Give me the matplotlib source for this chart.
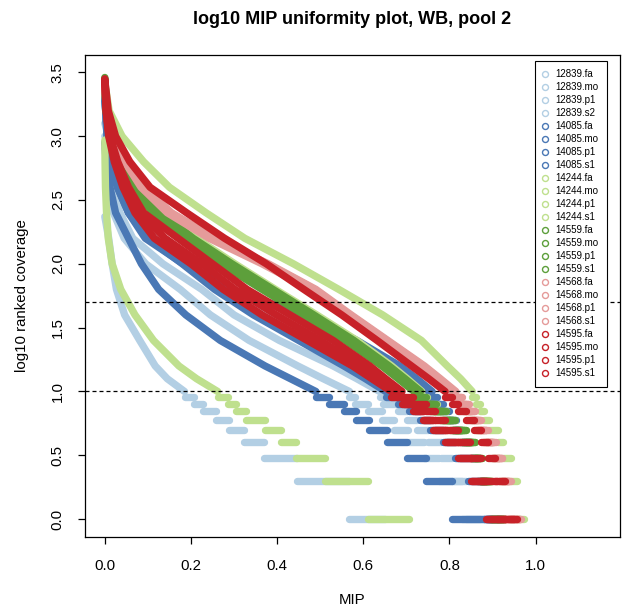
import numpy as np
import matplotlib
matplotlib.use("Agg")
import matplotlib.pyplot as plt
from matplotlib.lines import Line2D

plt.rcParams['font.family'] = ['Liberation Sans', 'DejaVu Sans']

nan = np.nan

# log10 coverage levels of the smooth part of each ranked curve
log_cov_levels = [3.2, 3.0, 2.8, 2.6, 2.4, 2.2, 2.0, 1.8, 1.6, 1.4, 1.2, 1.1, 1.0]
# integer coverages below 10 (the flat steps)
low_cov_levels = [9, 8, 7, 6, 5, 4, 3, 2, 1]

# fraction of MIPs (x) reaching each level
suffix_12839 = ['fa', 'mo', 'p1', 's2']
top_12839 = [2.90, 3.00, 2.37, 3.10]
hi_12839 = [
    [nan, nan, 0.004, 0.01, 0.02, 0.045, 0.095, 0.175, 0.245, 0.335, 0.448, 0.507, 0.568],
    [nan, 0.002, 0.01, 0.02, 0.035, 0.065, 0.135, 0.225, 0.30, 0.405, 0.53, 0.585, 0.638],
    [nan, nan, nan, nan, nan, 0.009, 0.017, 0.027, 0.046, 0.081, 0.117, 0.145, 0.185],
    [nan, 0.009, 0.024, 0.046, 0.078, 0.138, 0.222, 0.30, 0.396, 0.498, 0.593, 0.634, 0.672],
]
lo_12839 = [
    [0.58, 0.611, 0.644, 0.671, 0.704, 0.74, 0.775, 0.83, 0.88],
    [0.645, 0.68, 0.702, 0.725, 0.75, 0.78, 0.806, 0.839, 0.87],
    [0.207, 0.227, 0.258, 0.288, 0.3235, 0.37, 0.445, 0.567, 0.65],
    [0.688, 0.712, 0.736, 0.76, 0.787, 0.815, 0.845, 0.88, 0.92],
]

suffix_14085 = ['fa', 'mo', 'p1', 's1']
top_14085 = [2.95, 3.33, 3.30, 3.28]
hi_14085 = [
    [nan, nan, 0.005, 0.012, 0.025, 0.055, 0.085, 0.125, 0.188, 0.268, 0.372, 0.431, 0.49],
    [0.002, 0.006, 0.015, 0.032, 0.06, 0.10, 0.19, 0.29, 0.465, 0.585, 0.685, 0.724, 0.76],
    [0.002, 0.006, 0.014, 0.03, 0.055, 0.10, 0.18, 0.255, 0.345, 0.45, 0.555, 0.605, 0.652],
    [0.002, 0.005, 0.013, 0.029, 0.055, 0.094, 0.182, 0.282, 0.455, 0.575, 0.676, 0.716, 0.752],
]
lo_14085 = [
    [0.52, 0.555, 0.582, 0.6125, 0.6555, 0.702, 0.7465, 0.806, 0.90],
    [0.772, 0.786, 0.80, 0.815, 0.83, 0.85, 0.87, 0.89, 0.92],
    [0.68, 0.707, 0.731, 0.756, 0.784, 0.814, 0.844, 0.88, 0.925],
    [0.764, 0.779, 0.794, 0.809, 0.825, 0.845, 0.865, 0.885, 0.915],
]

suffix_14244 = ['fa', 'mo', 'p1', 's1']
top_14244 = [3.42, 3.35, 2.97, 3.38]
hi_14244 = [
    [0.01, 0.04, 0.09, 0.15, 0.235, 0.325, 0.438, 0.543, 0.645, 0.735, 0.795, 0.826, 0.853],
    [0.004, 0.016, 0.04, 0.077, 0.137, 0.212, 0.302, 0.396, 0.492, 0.585, 0.666, 0.702, 0.736],
    [nan, nan, 0.0005, 0.0015, 0.004, 0.008, 0.017, 0.037, 0.07, 0.113, 0.172, 0.213, 0.262],
    [0.005, 0.018, 0.047, 0.086, 0.15, 0.248, 0.372, 0.482, 0.565, 0.65, 0.735, 0.773, 0.808],
]
lo_14244 = [
    [0.862, 0.871, 0.881, 0.893, 0.912, 0.925, 0.942, 0.956, 0.972],
    [0.748, 0.771, 0.792, 0.813, 0.838, 0.859, 0.875, 0.899, 0.929],
    [0.2855, 0.304, 0.3285, 0.3715, 0.409, 0.4445, 0.511, 0.611, 0.706],
    [0.822, 0.836, 0.85, 0.864, 0.88, 0.898, 0.915, 0.935, 0.96],
]

suffix_14559 = ['fa', 'mo', 'p1', 's1']
top_14559 = [3.46, 3.44, 3.45, 3.42]
hi_14559 = [
    [0.004, 0.014, 0.035, 0.07, 0.13, 0.205, 0.295, 0.39, 0.485, 0.578, 0.66, 0.697, 0.733],
    [0.003, 0.011, 0.028, 0.058, 0.112, 0.183, 0.27, 0.365, 0.462, 0.558, 0.643, 0.681, 0.718],
    [0.004, 0.013, 0.032, 0.065, 0.122, 0.195, 0.284, 0.379, 0.475, 0.57, 0.653, 0.69, 0.725],
    [0.003, 0.012, 0.03, 0.062, 0.117, 0.189, 0.277, 0.372, 0.469, 0.564, 0.648, 0.686, 0.722],
]
lo_14559 = [
    [0.745, 0.77, 0.792, 0.813, 0.838, 0.86, 0.875, 0.90, 0.93],
    [0.733, 0.756, 0.778, 0.801, 0.826, 0.849, 0.867, 0.892, 0.924],
    [0.74, 0.764, 0.786, 0.808, 0.833, 0.855, 0.872, 0.897, 0.928],
    [0.737, 0.761, 0.783, 0.805, 0.83, 0.852, 0.87, 0.895, 0.926],
]

suffix_14568 = ['fa', 'mo', 'p1', 's1']
top_14568 = [3.40, 3.38, 3.36, 3.39]
hi_14568 = [
    [0.006, 0.02, 0.05, 0.09, 0.155, 0.255, 0.38, 0.49, 0.572, 0.657, 0.742, 0.779, 0.815],
    [0.006, 0.019, 0.048, 0.087, 0.15, 0.248, 0.372, 0.483, 0.565, 0.651, 0.736, 0.774, 0.808],
    [0.005, 0.018, 0.046, 0.084, 0.145, 0.242, 0.365, 0.477, 0.559, 0.645, 0.729, 0.767, 0.802],
    [0.006, 0.02, 0.049, 0.089, 0.153, 0.252, 0.377, 0.487, 0.569, 0.654, 0.739, 0.776, 0.812],
]
lo_14568 = [
    [0.83, 0.845, 0.86, 0.873, 0.889, 0.907, 0.923, 0.942, 0.967],
    [0.823, 0.838, 0.853, 0.867, 0.884, 0.902, 0.919, 0.938, 0.964],
    [0.817, 0.832, 0.848, 0.862, 0.879, 0.898, 0.916, 0.935, 0.962],
    [0.827, 0.842, 0.857, 0.87, 0.886, 0.904, 0.921, 0.94, 0.965],
]

suffix_14595 = ['fa', 'mo', 'p1', 's1']
top_14595 = [3.44, 3.44, 3.45, 3.43]
hi_14595 = [
    [0.008, 0.025, 0.058, 0.105, 0.19, 0.278, 0.375, 0.462, 0.55, 0.632, 0.712, 0.752, 0.79],
    [0.003, 0.009, 0.022, 0.042, 0.07, 0.115, 0.20, 0.275, 0.365, 0.47, 0.575, 0.62, 0.665],
    [0.004, 0.012, 0.03, 0.055, 0.09, 0.17, 0.25, 0.33, 0.43, 0.53, 0.615, 0.652, 0.69],
    [0.003, 0.01, 0.026, 0.048, 0.08, 0.14, 0.225, 0.302, 0.398, 0.50, 0.595, 0.636, 0.678],
]
lo_14595 = [
    [0.805, 0.82, 0.838, 0.856, 0.874, 0.89, 0.905, 0.93, 0.958],
    [0.69, 0.715, 0.738, 0.762, 0.79, 0.82, 0.85, 0.885, 0.93],
    [0.715, 0.746, 0.766, 0.79, 0.82, 0.848, 0.874, 0.91, 0.95],
    [0.695, 0.72, 0.742, 0.766, 0.794, 0.824, 0.853, 0.888, 0.932],
]

family_ids = ['12839', '14085', '14244', '14559', '14568', '14595']
family_colors = ['#b3cfe4', '#4a78b5', '#bfe08e', '#5d9f3b', '#e59b9a', '#c72128']

families = [
    (suffix_12839, top_12839, hi_12839, lo_12839),
    (suffix_14085, top_14085, hi_14085, lo_14085),
    (suffix_14244, top_14244, hi_14244, lo_14244),
    (suffix_14559, top_14559, hi_14559, lo_14559),
    (suffix_14568, top_14568, hi_14568, lo_14568),
    (suffix_14595, top_14595, hi_14595, lo_14595),
]

LW = 5.3


def draw_sample(ax, top, hi, lo, color, z):
    xs = [0.0]
    ys = [top]
    for lvl, f in zip(log_cov_levels, hi):
        if not np.isnan(f):
            xs.append(f)
            ys.append(lvl)
    ax.plot(xs, ys, color=color, lw=LW, solid_capstyle='round',
            solid_joinstyle='round', zorder=z)
    start = xs[-1]
    for cov, end in zip(low_cov_levels, lo):
        y = np.log10(cov)
        ax.plot([start, end], [y, y], color=color, lw=LW,
                solid_capstyle='round', zorder=z)
        start = end


fig = plt.figure(figsize=(6.29, 6.13), dpi=100)
ax = fig.add_axes([85 / 629, 1 - 537 / 613, 535 / 629, 482.5 / 613])

handles = []
z = 2
for fid, color, (suffixes, tops, his, los) in zip(family_ids, family_colors, families):
    for suf, top, hi, lo in zip(suffixes, tops, his, los):
        draw_sample(ax, top, hi, lo, color, z)
        z += 1
        handles.append(Line2D([], [], ls='none', marker='o', ms=4.3, mfc='none',
                              mec=color, mew=1.0, label=fid + '.' + suf))

ax.axhline(1.0, color='black', lw=0.9, dashes=(3.2, 2.4), zorder=100)
ax.axhline(1.7, color='black', lw=0.9, dashes=(3.2, 2.4), zorder=100)

ax.set_xlim(-0.046, 1.196)
ax.set_ylim(-0.14, 3.64)
ax.set_xticks([0.0, 0.2, 0.4, 0.6, 0.8, 1.0])
ax.set_xticklabels(['0.0', '0.2', '0.4', '0.6', '0.8', '1.0'])
ax.set_yticks([0.0, 0.5, 1.0, 1.5, 2.0, 2.5, 3.0, 3.5])
ax.set_yticklabels(['0.0', '0.5', '1.0', '1.5', '2.0', '2.5', '3.0', '3.5'],
                   rotation=90, va='center')
ax.tick_params(direction='out', length=5, width=0.9, labelsize=10.8)
ax.tick_params(axis='x', pad=11)
ax.tick_params(axis='y', pad=9.5)
for sp in ax.spines.values():
    sp.set_linewidth(0.9)

fig.text(352.5 / 629, 1 - 19 / 613, 'log10 MIP uniformity plot, WB, pool 2',
         ha='center', va='center', fontsize=13, fontweight='bold')
fig.text(352.5 / 629, 1 - 600 / 613, 'MIP', ha='center', va='center', fontsize=10.8)
fig.text(22 / 629, 1 - 296 / 613, 'log10 ranked coverage', ha='center', va='center',
         rotation=90, fontsize=10.8)

leg = ax.legend(handles=handles, loc='upper right',
                bbox_to_anchor=(607 / 629, 1 - 61 / 613), bbox_transform=fig.transFigure,
                fontsize=7, frameon=True, fancybox=False, framealpha=1,
                edgecolor='black', borderpad=0.84, labelspacing=0.31,
                handlelength=0.39, handletextpad=0.9, borderaxespad=0)
leg.get_frame().set_linewidth(0.8)
leg.set_zorder(200)

fig.savefig('out.png', dpi=100)
